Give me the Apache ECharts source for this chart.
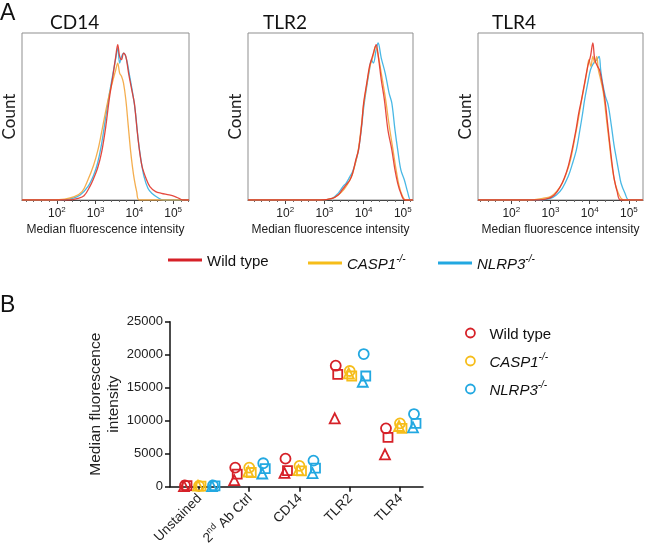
<!DOCTYPE html>
<html><head><meta charset="utf-8">
<script src="https://cdn.jsdelivr.net/npm/echarts@6/dist/echarts.min.js"></script>
<style>html,body{margin:0;padding:0;background:#fff}#c{width:650px;height:551px}</style>
</head><body><div id="c"></div><script>
// ---------- Panel A: histograms (x = log10 fluorescence, y = % of max count) ----------
const histTitles = ['CD14', 'TLR2', 'TLR4'];
const histTickExponents = [2, 3, 4, 5];
const histRanges = [[1.1, 5.41], [1.05, 5.26], [1.15, 5.36]];

const cd14WT = [[1.1,0],[2.3,0],[2.55,1],[2.7,2.5],[2.85,8],[2.95,13],[3.05,19],[3.15,28],[3.25,42],[3.35,60],[3.45,75],[3.52,86],[3.57,93],[3.62,86],[3.67,84],[3.72,88],[3.78,86],[3.85,76],[3.95,64],[4.0,58],[4.07,42],[4.13,30],[4.2,20],[4.3,13],[4.4,8],[4.55,5],[4.7,4],[4.9,3],[5.05,2],[5.15,1],[5.25,0],[5.41,0]];
const cd14CASP1 = [[1.1,0],[1.9,0],[2.2,0.5],[2.45,2],[2.65,5],[2.8,12],[2.95,21],[3.06,30],[3.15,40],[3.25,52],[3.35,63],[3.45,72],[3.52,78],[3.57,82],[3.62,76],[3.67,74],[3.72,70],[3.78,60],[3.84,45],[3.9,30],[3.95,20],[4.0,12],[4.06,5],[4.13,0],[5.41,0]];
const cd14NLRP3 = [[1.1,0],[2.1,0],[2.4,1],[2.6,3],[2.8,8],[2.95,15],[3.05,22],[3.15,33],[3.25,48],[3.35,63],[3.45,76],[3.52,85],[3.57,91],[3.62,82],[3.67,86],[3.73,88],[3.8,84],[3.88,74],[3.97,62],[4.03,52],[4.1,36],[4.17,24],[4.25,14],[4.35,7],[4.45,4],[4.6,1.5],[4.75,0],[5.41,0]];

const tlr2WT = [[1.05,0],[2.9,0],[3.2,1],[3.35,3],[3.45,6],[3.55,9],[3.65,12],[3.72,16],[3.8,24],[3.87,30],[3.95,45],[4.0,58],[4.08,70],[4.15,80],[4.2,84],[4.25,88],[4.32,93],[4.38,85],[4.45,72],[4.53,60],[4.62,42],[4.72,30],[4.8,18],[4.87,10],[4.95,4],[5.05,0],[5.26,0]];
const tlr2CASP1 = [[1.05,0],[2.9,0],[3.2,1],[3.35,3],[3.45,5],[3.55,8],[3.65,12],[3.72,16],[3.8,23],[3.87,31],[3.95,46],[4.0,57],[4.08,69],[4.15,79],[4.2,83],[4.25,87],[4.3,92],[4.36,88],[4.45,76],[4.55,62],[4.65,45],[4.75,30],[4.83,18],[4.9,9],[4.98,3],[5.08,0],[5.26,0]];
const tlr2NLRP3 = [[1.05,0],[2.9,0],[3.2,1],[3.35,4],[3.47,8],[3.55,10],[3.65,14],[3.72,17],[3.8,23],[3.87,30],[3.95,44],[4.0,55],[4.08,68],[4.15,78],[4.2,84],[4.25,82],[4.32,90],[4.37,94],[4.45,85],[4.55,76],[4.65,64],[4.72,58],[4.8,42],[4.87,30],[4.95,18],[5.04,12],[5.12,5],[5.2,0],[5.26,0]];

const tlr4WT = [[1.15,0],[2.7,0],[2.95,1],[3.1,3],[3.25,8],[3.35,13],[3.45,20],[3.55,30],[3.65,42],[3.72,52],[3.79,60],[3.87,70],[3.95,80],[4.02,86],[4.08,94],[4.13,84],[4.2,80],[4.25,78],[4.32,70],[4.39,60],[4.46,45],[4.53,30],[4.58,20],[4.63,12],[4.7,5],[4.79,0],[5.36,0]];
const tlr4CASP1 = [[1.15,0],[2.5,0],[2.8,1],[3.0,2],[3.15,5],[3.3,10],[3.42,17],[3.52,25],[3.62,37],[3.7,47],[3.78,58],[3.86,68],[3.93,77],[3.98,84],[4.03,80],[4.08,86],[4.13,82],[4.18,86],[4.22,78],[4.28,72],[4.35,64],[4.42,50],[4.5,34],[4.56,22],[4.62,13],[4.7,6],[4.8,1],[4.9,0],[5.36,0]];
const tlr4NLRP3 = [[1.15,0],[2.75,0],[3.0,1],[3.15,3],[3.3,7],[3.45,14],[3.55,21],[3.66,30],[3.75,42],[3.82,52],[3.87,60],[3.95,70],[4.02,78],[4.1,82],[4.18,84],[4.24,86],[4.28,78],[4.33,70],[4.4,62],[4.47,57],[4.55,45],[4.62,33],[4.68,25],[4.75,16],[4.8,10],[4.9,4],[5.0,0],[5.36,0]];

// ---------- Panel B: median fluorescence intensity ----------
const categories = ['Unstained', '2nd Ab Ctrl', 'CD14', 'TLR2', 'TLR4'];
const wtCircle     = [200, 2900, 4250, 18330, 8840];
const wtSquare     = [150, 1900, 2450, 17030, 7480];
const wtTriangle   = [80, 1000, 2100, 10360, 4900];
const caspCircle   = [120, 2900, 3150, 17530, 9600];
const caspSquare   = [100, 2150, 2400, 16770, 8840];
const caspTriangle = [150, 2300, 2500, 17180, 9200];
const nlrpCircle   = [180, 3550, 3950, 20100, 11010];
const nlrpSquare   = [120, 2750, 2800, 16770, 9600];
const nlrpTriangle = [100, 2000, 2050, 15900, 9000];

// ---------- styling ----------
const histColors = {WT: '#e2362b', CASP1: '#f3a53c', NLRP3: '#35b0e2'};
const legColors = {WT: '#d62128', CASP1: '#f6bd1a', NLRP3: '#22a8e1'};
const ARIAL = 'Liberation Sans, Arial, sans-serif';
const CAL = 'Lato, Carlito, sans-serif';

const histGrids = [
  {left: 22, top: 33, width: 167, height: 167},
  {left: 248, top: 33, width: 165, height: 167},
  {left: 478, top: 33, width: 165, height: 167}
];
const histData = [
  [cd14NLRP3, cd14CASP1, cd14WT],
  [tlr2NLRP3, tlr2CASP1, tlr2WT],
  [tlr4NLRP3, tlr4CASP1, tlr4WT]
];
const histNames = ['NLRP3', 'CASP1', 'Wild type'];
const histCols = [histColors.NLRP3, histColors.CASP1, histColors.WT];

const grids = histGrids.map(g => Object.assign({show: true, borderColor: '#8f8f8f', borderWidth: 1, containLabel: false}, g));
grids.push({left: 170, top: 321.7, width: 253, height: 165, show: false});

const xAxes = [], yAxes = [], series = [];
histGrids.forEach((g, i) => {
  xAxes.push({
    type: 'value', gridIndex: i, min: histRanges[i][0], max: histRanges[i][1],
    minInterval: 1, maxInterval: 1,
    axisLine: {show: true, onZero: false, lineStyle: {color: '#444', width: 1}},
    axisTick: {show: true, customValues: histTickExponents, length: 4, lineStyle: {color: '#444'}},
    minorTick: {show: true, splitNumber: 5, length: 2, lineStyle: {color: '#666'}},
    axisLabel: {
      customValues: histTickExponents, margin: 6,
      formatter: v => '{b|10}{s|' + v + '}',
      rich: {
        b: {fontSize: 12, fontFamily: ARIAL, color: '#222', lineHeight: 14, verticalAlign: 'bottom'},
        s: {fontSize: 8, fontFamily: ARIAL, color: '#222', lineHeight: 6, verticalAlign: 'top'}
      }
    },
    splitLine: {show: false},
    name: 'Median fluorescence intensity', nameLocation: 'middle', nameGap: 24,
    nameTextStyle: {fontSize: 12, fontFamily: ARIAL, color: '#222'}
  });
  yAxes.push({
    type: 'value', gridIndex: i, min: 0, max: 100,
    axisLine: {show: false, onZero: false}, axisTick: {show: false}, axisLabel: {show: false}, splitLine: {show: false},
    name: 'Count', nameLocation: 'middle', nameGap: 4,
    nameTextStyle: {fontSize: 17, fontFamily: CAL, color: '#222'}
  });
  histData[i].forEach((d, k) => {
    series.push({
      type: 'line', name: histNames[k], xAxisIndex: i, yAxisIndex: i, data: d,
      symbol: 'none', showSymbol: false, smooth: 0.35,
      lineStyle: {width: 1.3, color: histCols[k], opacity: 0.9},
      itemStyle: {color: histCols[k]}, z: 2 + k, silent: true
    });
  });
});

// Panel B axes
xAxes.push({
  type: 'value', gridIndex: 3, min: -0.577, max: 4.458,
  axisLine: {show: true, onZero: false, lineStyle: {color: '#111', width: 1.5}},
  axisTick: {show: true, customValues: [0, 1, 2, 3, 4], length: 5, lineStyle: {color: '#111', width: 1.5}},
  axisLabel: {
    customValues: [0, 1, 2, 3, 4], rotate: 45, margin: 9,
    formatter: v => {
      const c = categories[Math.round(v)];
      if (c.indexOf('2nd') === 0) return '{n|2}{s|nd}{n|' + c.slice(3) + '}';
      return '{n|' + c + '}';
    },
    rich: {
      n: {fontSize: 13.5, fontFamily: ARIAL, color: '#222', lineHeight: 16, verticalAlign: 'bottom'},
      s: {fontSize: 9, fontFamily: ARIAL, color: '#222', lineHeight: 8, verticalAlign: 'top'}
    }
  },
  splitLine: {show: false}
});
yAxes.push({
  type: 'value', gridIndex: 3, min: 0, max: 25000, interval: 5000,
  axisLine: {show: true, onZero: false, lineStyle: {color: '#111', width: 1.5}},
  axisTick: {show: true, length: 5, lineStyle: {color: '#111', width: 1.5}},
  axisLabel: {fontSize: 13, fontFamily: ARIAL, color: '#222', margin: 7, formatter: v => String(v)},
  splitLine: {show: false},
  name: 'Median fluorescence\nintensity', nameLocation: 'middle', nameGap: 45,
  nameTextStyle: {fontSize: 15.5, fontFamily: ARIAL, color: '#222', lineHeight: 18, align: 'center'}
});

const shapeDefs = [
  {sym: 'circle', size: 10, dx: 0},
  {sym: 'rect', size: 9, dx: 2},
  {sym: 'triangle', size: 10, dx: -1}
];
const groups = [
  {name: 'WT-B', color: legColors.WT, dx: -14, vals: [wtCircle, wtSquare, wtTriangle]},
  {name: 'CASP1-B', color: legColors.CASP1, dx: 0, vals: [caspCircle, caspSquare, caspTriangle]},
  {name: 'NLRP3-B', color: legColors.NLRP3, dx: 14, vals: [nlrpCircle, nlrpSquare, nlrpTriangle]}
];
groups.forEach(g => {
  const data = [];
  g.vals.forEach((arr, s) => {
    arr.forEach((v, ci) => {
      data.push({
        value: [ci, v], symbol: shapeDefs[s].sym, symbolSize: shapeDefs[s].size,
        symbolOffset: [g.dx + shapeDefs[s].dx, 0]
      });
    });
  });
  series.push({
    type: 'scatter', name: g.name, xAxisIndex: 3, yAxisIndex: 3, data: data,
    symbol: 'circle', symbolSize: 10,
    itemStyle: {color: 'rgba(255,255,255,0)', borderColor: g.color, borderWidth: 1.8, opacity: 1},
    z: 5, silent: true
  });
});

const legendRich = {
  n: {fontSize: 15, fontFamily: ARIAL, color: '#111', lineHeight: 18, verticalAlign: 'bottom'},
  i: {fontSize: 15, fontFamily: ARIAL, fontStyle: 'italic', color: '#111', lineHeight: 18, verticalAlign: 'bottom'},
  s: {fontSize: 10, fontFamily: ARIAL, fontStyle: 'italic', color: '#111', lineHeight: 7, verticalAlign: 'top'}
};
const legendText = name => {
  if (name === 'Wild type' || name === 'WT-B') return '{n|Wild type}';
  if (name.indexOf('CASP1') === 0) return '{i|CASP1}{s|-/-}';
  return '{i|NLRP3}{s|-/-}';
};
const lineLegend = (name, color, left) => ({
  data: [{name: name, icon: 'rect', itemStyle: {color: color}}],
  left: left, top: 254, itemWidth: 34, itemHeight: 3, padding: 0, selectedMode: false,
  formatter: legendText, textStyle: {rich: legendRich}
});
const dotLegend = (name, color, top) => ({
  data: [{name: name, icon: 'circle', itemStyle: {color: 'rgba(255,255,255,0)', borderColor: color, borderWidth: 1.8}}],
  left: 465, top: top, itemWidth: 28, itemHeight: 9, padding: 0, selectedMode: false,
  formatter: legendText, textStyle: {rich: legendRich}
});

const titleStyle = {fontSize: 19, fontFamily: CAL, fontWeight: 'normal', color: '#111'};
const option = {
  animation: false,
  backgroundColor: '#fff',
  title: [
    {text: 'A', left: 0, top: 2, padding: 0, textStyle: {fontSize: 23, fontFamily: ARIAL, fontWeight: 'normal', color: '#111'}},
    {text: histTitles[0], left: 50, top: 13, padding: 0, textStyle: titleStyle},
    {text: histTitles[1], left: 263, top: 13, padding: 0, textStyle: titleStyle},
    {text: histTitles[2], left: 492, top: 13, padding: 0, textStyle: titleStyle},
    {text: 'B', left: 0, top: 294, padding: 0, textStyle: {fontSize: 23, fontFamily: ARIAL, fontWeight: 'normal', color: '#111'}}
  ],
  legend: [
    lineLegend('Wild type', legColors.WT, 168),
    lineLegend('CASP1', legColors.CASP1, 308),
    lineLegend('NLRP3', legColors.NLRP3, 438),
    dotLegend('WT-B', legColors.WT, 327),
    dotLegend('CASP1-B', legColors.CASP1, 352),
    dotLegend('NLRP3-B', legColors.NLRP3, 380)
  ],
  grid: grids,
  xAxis: xAxes,
  yAxis: yAxes,
  series: series
};
const chart = echarts.init(document.getElementById('c'), null, {renderer: 'canvas'});
chart.setOption(option);
</script></body></html>
